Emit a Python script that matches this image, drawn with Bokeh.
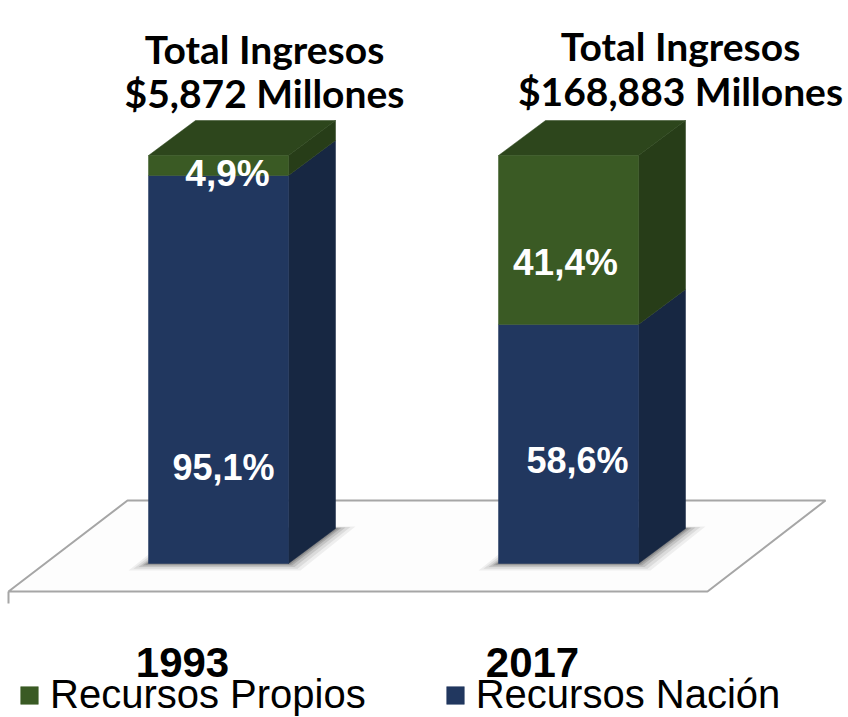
from bokeh.plotting import figure
from bokeh.models import Range1d, Legend, LegendItem
from bokeh.core.properties import value
from bokeh.embed import file_html
from bokeh.resources import INLINE

# ---------------- data ----------------
years = ["1993", "2017"]
recursos_propios = [4.9, 41.4]      # % of total income
recursos_nacion = [95.1, 58.6]      # % of total income
totales = ["$5,872 Millones", "$168,883 Millones"]
title_line = "Total Ingresos"
series_names = ["Recursos Propios", "Recursos Nación"]

# ---------------- layout ----------------
W, H = 848, 717
ORIGIN = 0              # page offset of the canvas
PX_PER_CAT = 350.0      # px between category centres
PX_PER_PCT = 4.08       # px per percentage point
CAT0_PAGE_X = 218.0     # page x of first bar centre
BASE_PAGE_Y = 563.0     # page y of 0 %

x_start = -(CAT0_PAGE_X - ORIGIN) / PX_PER_CAT
y_start = -((ORIGIN + H) - BASE_PAGE_Y) / PX_PER_PCT


def X(px):
    return (px - CAT0_PAGE_X) / PX_PER_CAT


def Y(py):
    return (BASE_PAGE_Y - py) / PX_PER_PCT


HW = 70 / PX_PER_CAT          # half bar width
DX = 47 / PX_PER_CAT          # depth offset x
DY = 35 / PX_PER_PCT          # depth offset y

BLUE_FRONT, BLUE_SIDE = "#21375F", "#172742"
GREEN_FRONT, GREEN_SIDE, GREEN_TOP = "#3A5A24", "#273D18", "#2D461C"

p = figure(width=W, height=H, output_backend="svg", toolbar_location=None,
           x_range=Range1d(x_start, x_start + W / PX_PER_CAT),
           y_range=Range1d(y_start, y_start + H / PX_PER_PCT),
           min_border=0, outline_line_color=None)
p.axis.visible = False
p.grid.visible = False
p.background_fill_color = "white"

# ---------------- floor ----------------
floor_px = [(127, 500), (825, 500), (707, 591), (8, 591)]
p.patch([X(a) for a, b in floor_px], [Y(b) for a, b in floor_px],
        fill_color="#FDFDFD", line_color="#A6A6A6", line_width=2)
p.line([X(8), X(8)], [Y(591), Y(603)], line_color="#A6A6A6", line_width=2)

# ---------------- shadows ----------------
idx = list(range(len(years)))
for e, a in [(20, 0.06), (15, 0.08), (10, 0.11), (6, 0.14), (3, 0.16)]:
    ex = e / PX_PER_CAT
    ey = (e * 0.35) / PX_PER_PCT
    xs, ys = [], []
    for i in idx:
        xs.append([i - HW - ex, i + HW + ex * 0.6, i + HW + DX + ex, i - HW + DX - ex * 0.6])
        ys.append([-ey, -ey, DY + ey * 0.3, DY + ey * 0.3])
    p.patches(xs, ys, fill_color="black", fill_alpha=a, line_color=None)

# ---------------- bars ----------------
bottoms = {"n": [0.0] * len(idx), "p": recursos_nacion}
tops = {"n": recursos_nacion, "p": [n + r for n, r in zip(recursos_nacion, recursos_propios)]}

# side faces
for key, col in [("n", BLUE_SIDE), ("p", GREEN_SIDE)]:
    xs, ys = [], []
    for i in idx:
        b, t = bottoms[key][i], tops[key][i]
        xs.append([i + HW, i + HW + DX, i + HW + DX, i + HW])
        ys.append([b, b + DY, t + DY, t])
    p.patches(xs, ys, fill_color=col, line_color=col, line_width=0.5)

# top faces (of the upper segment)
xs, ys = [], []
for i in idx:
    T = tops["p"][i]
    xs.append([i - HW, i - HW + DX, i + HW + DX, i + HW])
    ys.append([T, T + DY, T + DY, T])
p.patches(xs, ys, fill_color=GREEN_TOP, line_color=GREEN_TOP, line_width=0.5)

# front faces
r_nacion = p.quad(left=[i - HW for i in idx], right=[i + HW for i in idx],
                  bottom=bottoms["n"], top=tops["n"],
                  fill_color=BLUE_FRONT, line_color=BLUE_FRONT, line_width=0.5)
r_propios = p.quad(left=[i - HW for i in idx], right=[i + HW for i in idx],
                   bottom=bottoms["p"], top=tops["p"],
                   fill_color=GREEN_FRONT, line_color=GREEN_FRONT, line_width=0.5)


def fmt(v):
    return f"{v:.1f}".replace(".", ",") + "%"


# ---------------- data labels ----------------
lab_font = value("Liberation Sans")
nacion_pos = [(223, 467), (577, 460)]
propios_pos = [(227, 173), (565, 262)]
p.text(x=[X(a) for a, b in nacion_pos], y=[Y(b) for a, b in nacion_pos],
       text=[fmt(v) for v in recursos_nacion], text_color="white",
       text_font=lab_font, text_font_style="bold", text_font_size="36px",
       text_align="center", text_baseline="alphabetic")
p.text(x=[X(a) for a, b in propios_pos], y=[Y(b) for a, b in propios_pos],
       text=[fmt(v) for v in recursos_propios], text_color="white",
       text_font=lab_font, text_font_style="bold", text_font_size="37px",
       text_align="center", text_baseline="alphabetic")

# ---------------- titles ----------------
title_pos = [(264, 48, 92), (680, 45, 90)]
for (cx, b1, b2), tot in zip(title_pos, totales):
    p.text(x=[X(cx), X(cx)], y=[Y(b1), Y(b2)], text=[title_line, tot],
           text_color="black", text_font=value("Lato"), text_font_style="bold",
           text_font_size="39px", text_align="center", text_baseline="alphabetic")

# ---------------- category labels ----------------
year_pos = [(182, 662), (532, 662)]
p.text(x=[X(a) for a, b in year_pos], y=[Y(b) for a, b in year_pos], text=years,
       text_color="black", text_font=lab_font, text_font_style="bold",
       text_font_size="42px", text_align="center", text_baseline="alphabetic")

# ---------------- legend ----------------
legend = Legend(items=[LegendItem(label=series_names[0], renderers=[r_propios]),
                       LegendItem(label=series_names[1], renderers=[r_nacion])],
                orientation="horizontal", location=(18, 0),
                glyph_width=22, glyph_height=22, label_standoff=10, spacing=78,
                padding=0, margin=0, border_line_alpha=0, background_fill_alpha=0,
                label_text_font="Liberation Sans", label_text_font_size="40px",
                label_text_color="black")
p.add_layout(legend, "center")

open("out.html", "w").write(file_html(p, INLINE))
